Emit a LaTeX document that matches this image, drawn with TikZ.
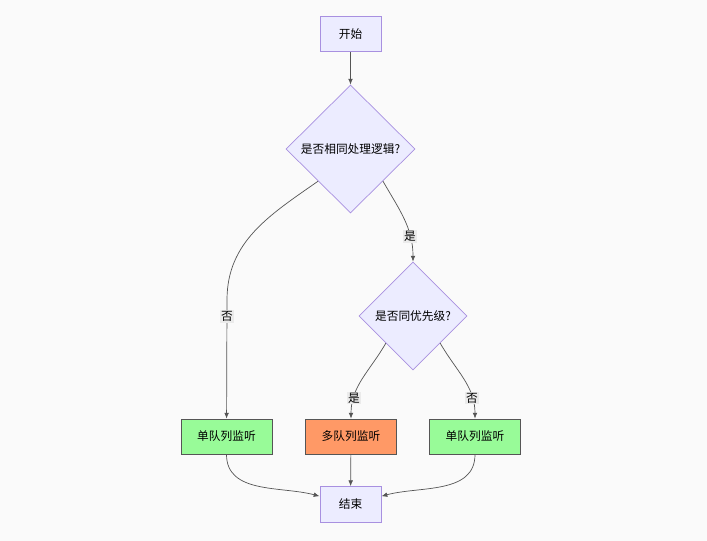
\documentclass[tikz,border=0pt]{standalone}
\usepackage{fontspec}
\setmainfont{Noto Sans CJK SC}
\usepackage{tikz}
\usetikzlibrary{shapes.geometric, arrows.meta, positioning}
\definecolor{nodefill}{HTML}{ECECFF}
\definecolor{nodeline}{HTML}{A890E0}
\definecolor{greenfill}{HTML}{98FB98}
\definecolor{orangefill}{HTML}{FF9966}
\definecolor{boxline}{HTML}{555555}
\definecolor{edgecol}{HTML}{555555}
\definecolor{bgcol}{HTML}{FAFAFA}
\definecolor{lblbg}{HTML}{EBEBEB}
\newcommand{\flowfont}{\fontsize{10}{12}\selectfont}

\begin{document}
\begin{tikzpicture}[
            x=0.03cm, y=-0.03cm,
            term/.style={rectangle, draw=nodeline, fill=nodefill, line width=0.8pt, minimum width=1.83cm, minimum height=1.07cm, font=\flowfont},
            decide/.style={diamond, draw=nodeline, fill=nodefill, line width=0.6pt, inner sep=0pt, font=\flowfont},
            listen/.style={rectangle, draw=boxline, line width=0.6pt, minimum width=2.73cm, minimum height=1.05cm, font=\flowfont},
            lbl/.style={fill=lblbg, inner sep=1pt, font=\flowfont},
            arrow/.style={-{Latex[length=5pt, width=4pt]}, draw=edgecol, line width=0.6pt}
        ]
        % Page
        \fill[bgcol] (0,0) rectangle (707,541);
        \useasboundingbox (0,0) rectangle (707,541);

        % Nodes
        \node[term] (start) at (350.5, 34) {开始};
        \node[decide, minimum width=3.87cm, minimum height=3.84cm] (same) at (350.5, 149) {是否相同处理逻辑?};
        \node[decide, minimum width=3.24cm, minimum height=3.24cm] (prio) at (413, 316) {是否同优先级?};
        \node[listen, fill=greenfill] (single1) at (226.5, 436.5) {单队列监听};
        \node[listen, fill=orangefill] (multi) at (351, 436.5) {多队列监听};
        \node[listen, fill=greenfill] (single2) at (475, 436.5) {单队列监听};
        \node[term] (stop) at (350.5, 504.5) {结束};

        % Bend point of the left branch
        \coordinate (bend1) at (227, 300);

        % Edges
        \draw[arrow] (start) -- (same);
        \draw[arrow] (same.south west) to[out=215, in=90] (bend1) -- node[lbl, pos=0.14] {否} (single1);
        \draw[arrow] (same.south east) to[out=-60, in=90] node[lbl, pos=0.72] {是} (prio);
        \draw[arrow] (prio.south west) to[out=-120, in=90] node[lbl, pos=0.76] {是} (multi);
        \draw[arrow] (prio.south east) to[out=-60, in=90] node[lbl, pos=0.76] {否} (single2);
        \draw[arrow] (single1) to[out=-90, in=165] (stop);
        \draw[arrow] (multi) -- (stop);
        \draw[arrow] (single2) to[out=-90, in=15] (stop);
    \end{tikzpicture}
\end{document}
